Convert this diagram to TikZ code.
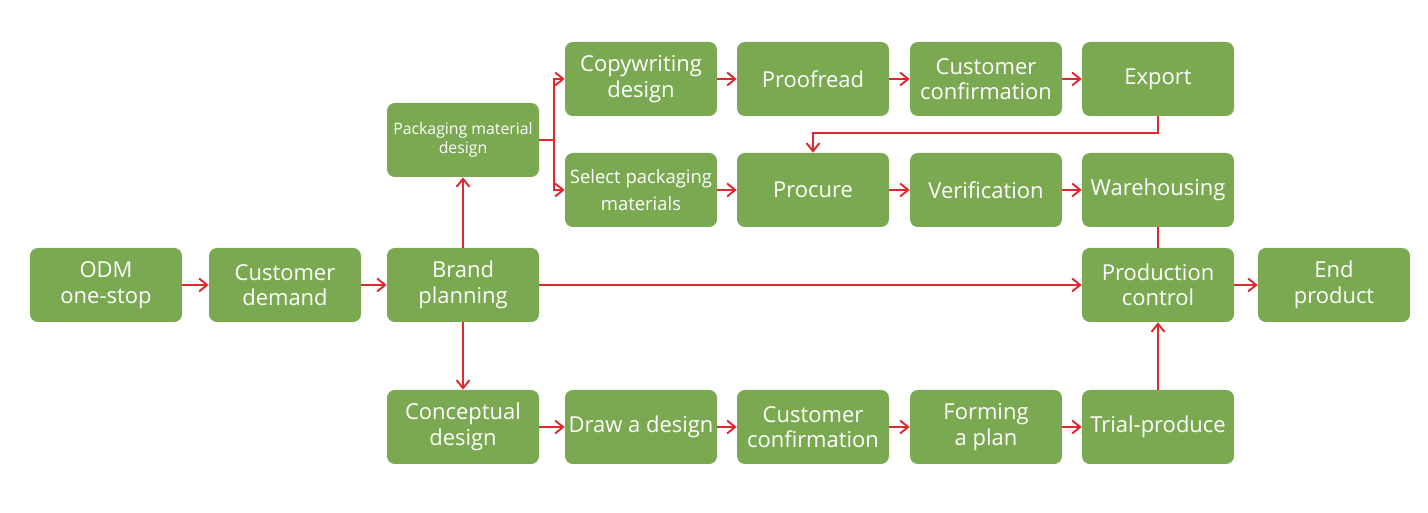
\documentclass[tikz,border=0pt]{standalone}
\usepackage{fontspec}
\setmainfont{Open Sans}
\usepackage{tikz}
\usetikzlibrary{arrows.meta}
\definecolor{leaf}{HTML}{7AA951}
\definecolor{linkred}{HTML}{E0282E}
\tikzset{box/.style={rounded corners=4.5pt,align=center,minimum width=3.04cm,minimum height=1.48cm,
    fill=leaf,text=white,inner sep=1pt,font=\fontsize{12.5}{14.5}\selectfont},
  smallbox/.style={box,font=\fontsize{9}{10.5}\selectfont},
  midbox/.style={box,font=\fontsize{10.5}{15.3}\selectfont},
  link/.style={linkred,line width=1.1pt},
  arr/.style={link,-{Straight Barb[length=1.6mm,width=2.6mm]}}}

\begin{document}
\begin{tikzpicture}
\useasboundingbox (0,0) rectangle (28.56,10.26);
% main line
\node[box] (odm) at (2.12,4.56) {ODM\\one-stop};
\node[box] (demand) at (5.70,4.56) {Customer\\demand};
\node[box] (brand) at (9.26,4.56) {Brand\\planning};
\node[box] (prodctl) at (23.16,4.56) {Production\\control};
\node[box] (endp) at (26.68,4.56) {End\\product};
% packaging
\node[smallbox] (pmd) at (9.26,7.46) {Packaging material\\design};
\node[box] (copy) at (12.82,8.68) {Copywriting\\design};
\node[box] (proof) at (16.26,8.68) {Proofread};
\node[box] (confa) at (19.72,8.68) {Customer\\confirmation};
\node[box] (export) at (23.16,8.68) {Export};
\node[midbox] (select) at (12.82,6.46) {Select packaging\\materials};
\node[box] (procure) at (16.26,6.46) {Procure};
\node[box] (verif) at (19.72,6.46) {Verification};
\node[box] (ware) at (23.16,6.46) {Warehousing};
% product design
\node[box] (concept) at (9.26,1.72) {Conceptual\\design};
\node[box] (drawd) at (12.82,1.72) {Draw a design};
\node[box] (confb) at (16.26,1.72) {Customer\\confirmation};
\node[box] (forming) at (19.72,1.72) {Forming\\a plan};
\node[box] (trial) at (23.16,1.72) {Trial-produce};
% links
\draw[arr] (odm) -- (demand);
\draw[arr] (demand) -- (brand);
\draw[arr] (brand) -- (prodctl);
\draw[arr] (prodctl) -- (endp);
\draw[arr] (brand) -- (pmd);
\draw[arr] (brand) -- (concept);
\draw[arr] (pmd.east) -- ++(0.3,0) |- (copy.west);
\draw[arr] (pmd.east) -- ++(0.3,0) |- (select.west);
\draw[arr] (copy) -- (proof);
\draw[arr] (proof) -- (confa);
\draw[arr] (confa) -- (export);
\draw[arr] (export.south) -- ++(0,-0.34) -| (procure.north);
\draw[arr] (select) -- (procure);
\draw[arr] (procure) -- (verif);
\draw[arr] (verif) -- (ware);
\draw[link] (ware) -- (prodctl);
\draw[arr] (concept) -- (drawd);
\draw[arr] (drawd) -- (confb);
\draw[arr] (confb) -- (forming);
\draw[arr] (forming) -- (trial);
\draw[arr] (trial) -- (prodctl);
\end{tikzpicture}
\end{document}
